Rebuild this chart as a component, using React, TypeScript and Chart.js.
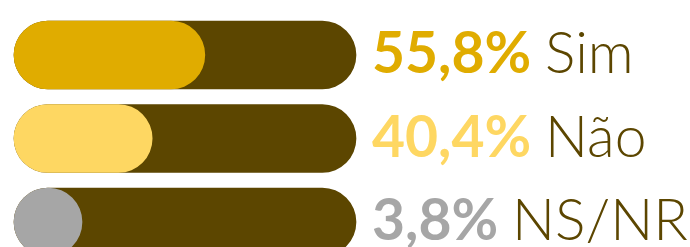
import React, { useEffect, useRef } from "react";
import { Chart, registerables } from "chart.js";

Chart.register(...registerables);

const categories = ["Sim", "Não", "NS/NR"];
const values = [55.8, 40.4, 3.8];
const fillColors = ["#E0AC00", "#FED762", "#A6A6A6"];
const trackValues = [100, 100, 100];
const trackColor = "#5C4600";
const labelColor = "#5C4600";

const labelPlugin = {
  id: "sideLabels",
  afterDatasetsDraw(chart: any) {
    const { ctx, chartArea } = chart;
    const meta = chart.getDatasetMeta(1);
    ctx.save();
    ctx.textBaseline = "alphabetic";
    ctx.textAlign = "left";
    meta.data.forEach((el: any, i: number) => {
      const x = chartArea.right + 16;
      const y = el.y + 18;
      const pct = String(values[i]).replace(".", ",") + "%";
      ctx.font = "bold 57px Lato";
      ctx.fillStyle = fillColors[i];
      ctx.fillText(pct, x, y);
      const w = ctx.measureText(pct + " ").width;
      ctx.font = "300 57px Lato";
      ctx.fillStyle = labelColor;
      ctx.fillText(categories[i], x + w, y);
    });
    ctx.restore();
  },
};

export default function App() {
  const ref = useRef<HTMLCanvasElement>(null);
  useEffect(() => {
    if (!ref.current) return;
    const chart = new Chart(ref.current, {
      type: "bar",
      data: {
        labels: categories,
        datasets: [
          {
            data: trackValues,
            backgroundColor: trackColor,
            borderRadius: 34,
            borderSkipped: false,
            barThickness: 68,
            grouped: false,
            order: 2,
            clip: false,
          } as any,
          {
            data: values,
            backgroundColor: fillColors,
            borderRadius: 34,
            borderSkipped: false,
            barThickness: 68,
            minBarLength: 68,
            grouped: false,
            order: 1,
            clip: false,
          } as any,
        ],
      },
      options: {
        indexAxis: "y",
        animation: false,
        responsive: false,
        layout: { padding: { left: 14, right: 334, top: 55, bottom: 25 } },
        plugins: { legend: { display: false }, tooltip: { enabled: false } },
        scales: {
          x: { display: false, min: 0, max: 100 },
          y: { display: false, offset: false },
        },
      },
      plugins: [labelPlugin],
    });
    return () => chart.destroy();
  }, []);
  return (
    <div style={{ position: "fixed", left: 0, top: 0, width: 690, height: 247, background: "#fff" }}>
      <canvas ref={ref} width={690} height={247} style={{ display: "block" }} />
    </div>
  );
}
